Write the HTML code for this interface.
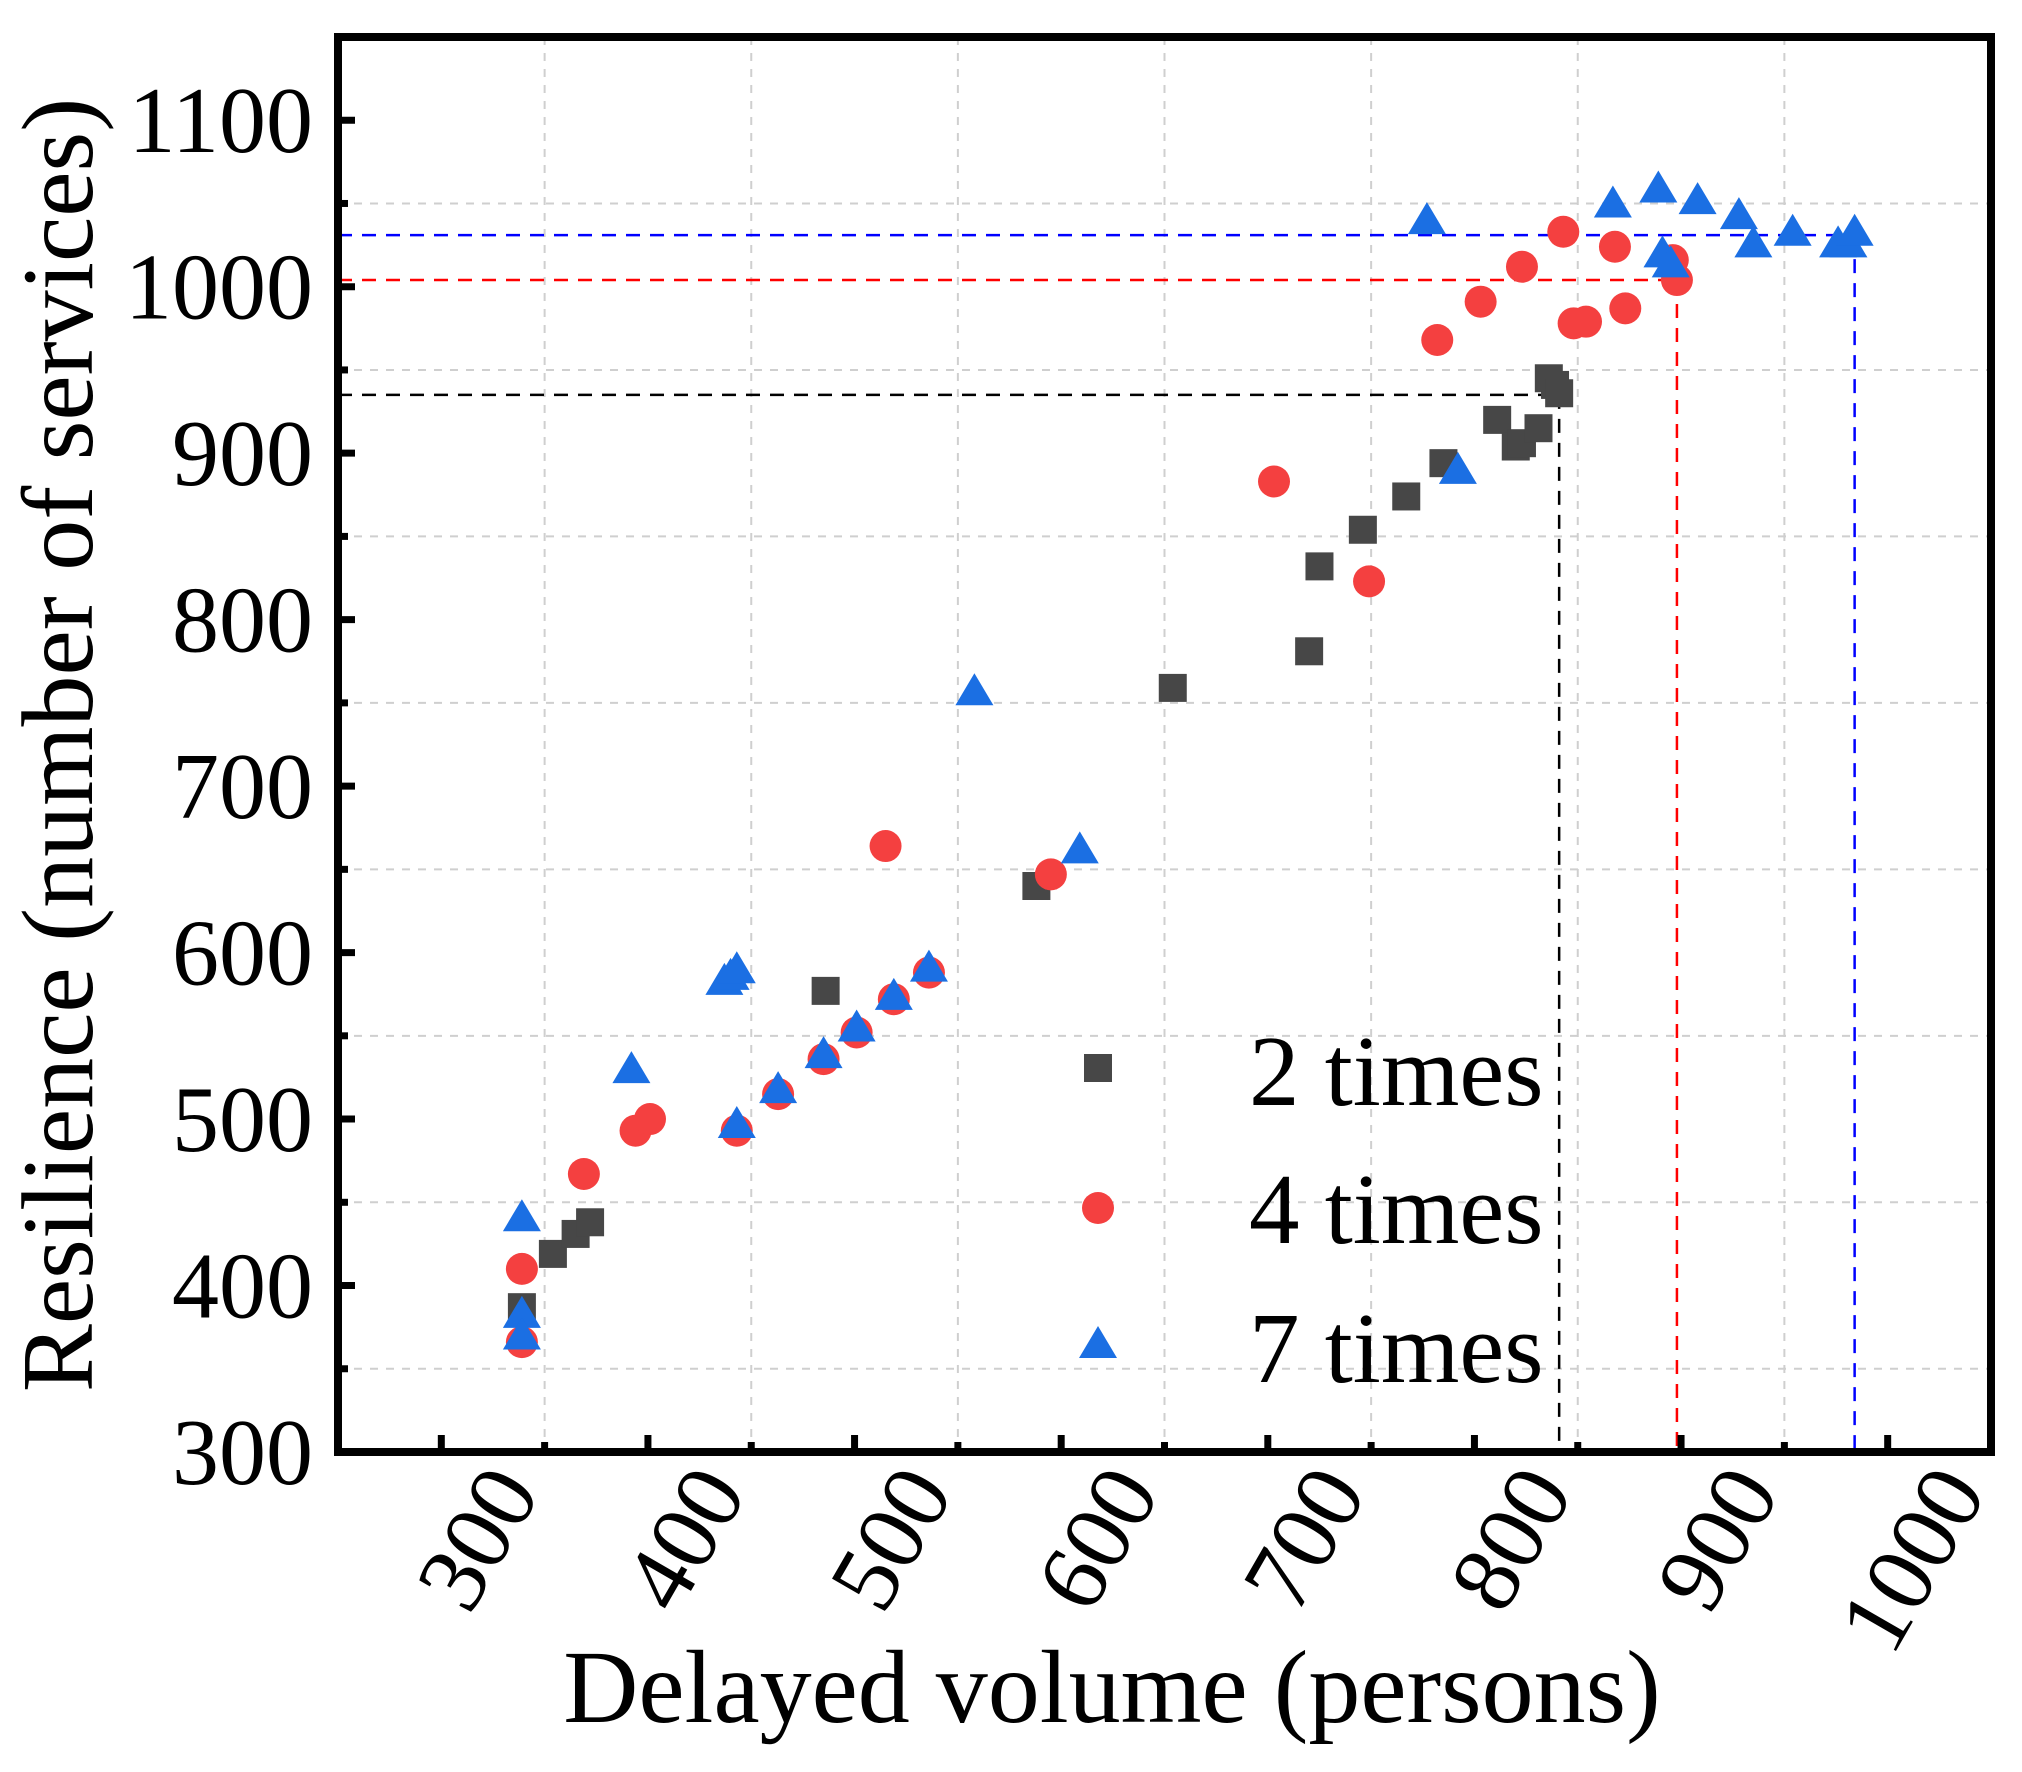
<!DOCTYPE html>
<html><head><meta charset="utf-8">
<style>
html,body{margin:0;padding:0;background:#fff;}
svg{display:block;}
text{font-family:"Liberation Serif",serif;fill:#000;}
</style></head>
<body>
<svg id="chart" width="2022" height="1772" viewBox="0 0 2022 1772" xmlns="http://www.w3.org/2000/svg">
<g id="grid"></g>
<g id="refs"></g>
<g id="marks"></g>
<g id="axes"></g>
<g id="legend"></g>
<text x="1112" y="1722" font-size="104" text-anchor="middle">Delayed volume (persons)</text>
<text transform="translate(92,745) rotate(-90)" font-size="102" text-anchor="middle">Resilience (number of services)</text>
</svg>
<script>
const xTicks = [300,400,500,600,700,800,900,1000];
const yTicks = [300,400,500,600,700,800,900,1000,1100];
const xGrid = [350,450,550,650,750,850,950,1050];
const yGrid = [350,450,550,650,750,850,950,1050];

const s2x = [339,354,365,372,486,588,654,720,725,746,767,785,811,820,823,831,836,839,841];
const s2y = [387,419,431,438,577,640,759,781,832,854,874,894,920,904,906,915,945,941,936];

const s4x = [339,339,369,394,401,443,463,485,501,519,536,515,595,703,749,782,803,823,843,848,854,873,868,896,898];
const s4y = [410,366,467,493,500,493,515,536,552,572,588,664,647,883,823,968,991,1012,1033,978,979,987,1024,1016,1004];

const s7x = [339,339,339,392,437,440,443,443,463,485,501,519,536,558,609,777,792,867,889,908,928,935,891,895,954,976,981,984];
const s7y = [441,383,370,530,583,586,590,497,518,539,555,574,591,757,662,1040,890,1050,1059,1052,1043,1026,1020,1014,1033,1026,1026,1033];

const refX = [841,898,984];
const refY = [935,1004,1031];
const refColors = ['#000000','#ff0000','#0000ff'];
const legendLabels = ['2 times','4 times','7 times'];

const L=338,R=1991,T=37,B=1452;
const X0=250,X1=1050,Y0=300,Y1=1150;
function xs(v){return L+(v-X0)/(X1-X0)*(R-L);}
function ys(v){return B-(v-Y0)/(Y1-Y0)*(B-T);}
const NS='http://www.w3.org/2000/svg';
function mk(tag,attrs,parent){const e=document.createElementNS(NS,tag);for(const k in attrs)e.setAttribute(k,attrs[k]);parent.appendChild(e);return e;}
const grid=document.getElementById('grid'),refs=document.getElementById('refs'),marks=document.getElementById('marks'),axes=document.getElementById('axes'),legend=document.getElementById('legend');

xGrid.forEach(v=>{const e=mk('line',{x1:xs(v),x2:xs(v),y1:T,y2:B,stroke:'#cfcfcf','stroke-width':2,'stroke-dasharray':'8 8'},grid);

});
yGrid.forEach(v=>{const e=mk('line',{x1:L,x2:R,y1:ys(v),y2:ys(v),stroke:'#cfcfcf','stroke-width':2,'stroke-dasharray':'8 8'},grid);

});

refX.forEach((xv,i)=>{
const h=mk('line',{x1:L,x2:xs(xv),y1:ys(refY[i]),y2:ys(refY[i]),stroke:refColors[i],'stroke-width':2.5,'stroke-dasharray':'14 10'},refs);


const v=mk('line',{x1:xs(xv),x2:xs(xv),y1:ys(refY[i]),y2:B,stroke:refColors[i],'stroke-width':2.5,'stroke-dasharray':'14 10'},refs);


});

function square(cx,cy,p){const e=mk('rect',{x:cx-14,y:cy-14,width:28,height:28,fill:'#474747'},p);return e;}
function circle(cx,cy,p){const e=mk('circle',{cx:cx,cy:cy,r:16,fill:'#f44040'},p);return e;}
function tri(cx,cy,p){const e=mk('polygon',{points:`${cx},${cy-18} ${cx+19},${cy+14} ${cx-19},${cy+14}`,fill:'#1b6fe3'},p);return e;}

s2x.forEach((v,i)=>{const e=square(xs(v),ys(s2y[i]),marks);

});
s4x.forEach((v,i)=>{const e=circle(xs(v),ys(s4y[i]),marks);

});
s7x.forEach((v,i)=>{const e=tri(xs(v),ys(s7y[i]),marks);

});

const fr=mk('rect',{x:L,y:T,width:R-L,height:B-T,fill:'none',stroke:'#000','stroke-width':8},axes);


xTicks.forEach(v=>{const e=mk('line',{x1:xs(v),x2:xs(v),y1:B,y2:B-17,stroke:'#000','stroke-width':7},axes);


const t=mk('text',{x:0,y:0,'font-size':96,'text-anchor':'end',transform:`translate(${xs(v)+100},${B+40}) rotate(-60)`},axes);
t.textContent=v;

});
xGrid.forEach(v=>{if(xs(v)>R-4)return;const e=mk('line',{x1:xs(v),x2:xs(v),y1:B,y2:B-10,stroke:'#000','stroke-width':7},axes);

});
yTicks.forEach(v=>{const e=mk('line',{x1:L,x2:L+17,y1:ys(v),y2:ys(v),stroke:'#000','stroke-width':7},axes);


const t=mk('text',{x:313,y:ys(v)+32,'font-size':94,'text-anchor':'end'},axes);
t.textContent=v;

});
yGrid.forEach(v=>{const e=mk('line',{x1:L,x2:L+10,y1:ys(v),y2:ys(v),stroke:'#000','stroke-width':7},axes);

});

const legY=[1068,1208,1344], legB=[1105,1243,1382];
const fns=[square,circle,tri];
legendLabels.forEach((lab,i)=>{
const m=fns[i](1098,legY[i],legend);


const t=mk('text',{x:1249,y:legB[i],'font-size':101},legend);
t.textContent=lab;


});
</script>
</body></html>
